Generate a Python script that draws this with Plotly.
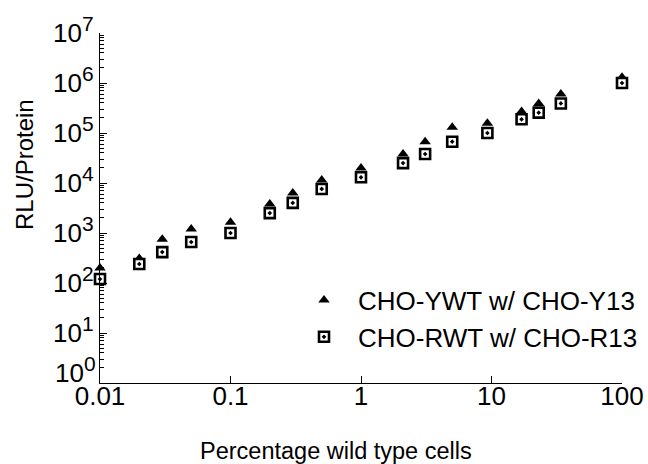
import plotly.graph_objects as go

# Data
pct = [0.01, 0.02, 0.03, 0.05, 0.1, 0.2, 0.3, 0.5, 1, 2.1, 3.1, 5, 9.3, 17, 23, 34, 100]
ywt_y13 = [200, 310, 750, 1200, 1650, 3800, 6300, 11500, 20000, 38000, 67000,
           130000, 156000, 270000, 390000, 600000, 1300000]
rwt_r13 = [120, 240, 415, 660, 1000, 2500, 4000, 7600, 13000, 25000, 38000,
           67000, 100000, 188000, 255000, 390000, 1000000]

series_names = ["CHO-YWT w/ CHO-Y13", "CHO-RWT w/ CHO-R13"]
x_tickvals = [0.01, 0.1, 1, 10, 100]
x_ticktext = ["0.01", "0.1", "1", "10", "100"]
y_tickvals = [1, 10, 100, 1000, 10000, 100000, 1000000, 10000000]
y_exponents = [0, 1, 2, 3, 4, 5, 6, 7]

SUP = "10<sup><span style='font-size:21px'>%d</span></sup>"
# the lowest label (10^0) is lifted off the x-axis labels, as in the reference
y_ticktext = ["" if e == 0 else SUP % e for e in y_exponents]

FONT = "Liberation Sans, Arial, sans-serif"

fig = go.Figure()
fig.add_trace(go.Scatter(
    x=pct, y=ywt_y13, mode="markers", name=series_names[0],
    marker=dict(symbol="triangle-up", size=10, color="black"),
    cliponaxis=False,
))
fig.add_trace(go.Scatter(
    x=pct, y=rwt_r13, mode="markers", name=series_names[1],
    marker=dict(symbol="square-dot", size=10, color="white",
                line=dict(color="black", width=2.6)),
    cliponaxis=False,
))

fig.update_layout(
    width=648, height=464,
    margin=dict(l=100, r=26, t=33, b=81, autoexpand=False),
    paper_bgcolor="white", plot_bgcolor="white",
    font=dict(family=FONT, size=26, color="black"),
    showlegend=True,
    legend=dict(x=0.364, y=0.304, xanchor="left", yanchor="top",
                bgcolor="rgba(0,0,0,0)", font=dict(size=26, color="black"),
                itemwidth=58, tracegroupgap=0),
    xaxis=dict(
        type="log", range=[-2, 2],
        tickvals=x_tickvals, ticktext=x_ticktext,
        ticks="inside", ticklen=7, tickcolor="black",
        showline=True, linecolor="black", linewidth=1.2,
        showgrid=False, zeroline=False, mirror=False,
        tickfont=dict(size=26), ticklabelstandoff=-10,
    ),
    yaxis=dict(
        type="log", range=[0, 7],
        tickvals=y_tickvals, ticktext=y_ticktext,
        ticks="inside", ticklen=7, tickcolor="black",
        showline=True, linecolor="black", linewidth=1.2,
        showgrid=False, zeroline=False, mirror=False,
        tickfont=dict(size=26),
        minor=dict(ticks="inside", ticklen=4, tickwidth=1, tickcolor="black",
                   tickmode="linear", dtick="D1", showgrid=False),
    ),
    annotations=[
        dict(text=SUP % y_exponents[0], xref="paper", yref="y",
             x=0, y=y_exponents[0], xanchor="right", yanchor="middle",
             xshift=-2, yshift=13, showarrow=False, font=dict(size=26)),
        dict(text="Percentage wild type cells", xref="paper", yref="paper",
             x=(336 - 100) / 522, y=(464 - 451 - 81) / 350, xanchor="center", yanchor="middle",
             showarrow=False, font=dict(size=23.5)),
        dict(text="RLU/Protein", xref="paper", yref="paper",
             x=(24 - 100) / 522, y=(383 - 165) / 350, xanchor="center", yanchor="middle",
             textangle=-90, showarrow=False, font=dict(size=24)),
    ],
)

fig.write_html("out.html")
